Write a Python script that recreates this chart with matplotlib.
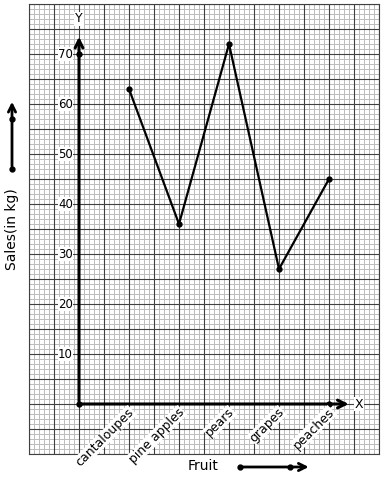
import numpy as np
import matplotlib
matplotlib.use("Agg")
import matplotlib.pyplot as plt

fruits = ["cantaloupes", "pine apples", "pears", "grapes", "peaches"]
sales = [63, 36, 72, 27, 45]
y_labels = [10, 20, 30, 40, 50, 60, 70]

x_pos = np.arange(1, len(fruits) + 1)

fig = plt.figure(figsize=(3.84, 4.8), dpi=100)
ax = fig.add_axes([29 / 384, 26 / 480, 350 / 384, 450 / 480])
ax.set_xlim(-1, 6)
ax.set_ylim(-10, 80)

# graph paper
for v in np.arange(-1, 6.001, 0.1):
    ax.axvline(v, color="#bdbdbd", lw=0.72, zorder=0)
for v in np.arange(-10, 80.001, 1):
    ax.axhline(v, color="#bdbdbd", lw=0.72, zorder=0)
for v in np.arange(-1, 6.001, 0.5):
    ax.axvline(v, color="#404040", lw=0.8, zorder=1)
for v in np.arange(-10, 80.001, 5):
    ax.axhline(v, color="#404040", lw=0.8, zorder=1)

ax.set_xticks([])
ax.set_yticks([])
for s in ax.spines.values():
    s.set_color("#404040")
    s.set_linewidth(0.8)

# axes with arrows
ax.annotate("", xy=(0, 74), xytext=(0, 0),
            arrowprops=dict(arrowstyle="->", lw=2.2, color="black", mutation_scale=14), zorder=3)
ax.annotate("", xy=(5.45, 0), xytext=(0, 0),
            arrowprops=dict(arrowstyle="->", lw=2.2, color="black", mutation_scale=14), zorder=3)
ax.plot([0, 0, 5], [0, 70, 0], "o", color="black", ms=3.5, zorder=4)
ax.text(0, 77, "Y", ha="center", va="center", fontsize=9,
        bbox=dict(fc="white", ec="none", pad=0.5), zorder=5)
ax.text(5.6, 0, "X", ha="center", va="center", fontsize=9,
        bbox=dict(fc="white", ec="none", pad=0.5), zorder=5)

# y labels
for v in y_labels:
    ax.text(-0.12, v, str(v), ha="right", va="center", fontsize=8.5,
            bbox=dict(fc="white", ec="none", pad=0.3), zorder=5)

# x labels
for x, name in zip(x_pos, fruits):
    ax.text(x - 0.03, -0.3, name, ha="right", va="top", rotation=45,
            rotation_mode="anchor", fontsize=9,
            bbox=dict(fc="white", ec="none", pad=0.3), zorder=5, clip_on=False)

# data
ax.plot(x_pos, sales, color="black", lw=1.6, marker="o", ms=3.5, zorder=4)

# outside labels and arrows
ax.text(-1.34, 35, "Sales(in kg)", rotation=90, ha="center", va="center",
        fontsize=10, clip_on=False)
ax.annotate("", xy=(-1.34, 61), xytext=(-1.34, 47), annotation_clip=False,
            arrowprops=dict(arrowstyle="->", lw=2, color="black", mutation_scale=13))
ax.plot([-1.34, -1.34], [47, 57], "o", color="black", ms=3.5, clip_on=False)

ax.text(2.48, -12.5, "Fruit", ha="center", va="center", fontsize=10, clip_on=False)
ax.annotate("", xy=(4.65, -12.6), xytext=(3.22, -12.6), annotation_clip=False,
            arrowprops=dict(arrowstyle="->", lw=2, color="black", mutation_scale=13))
ax.plot([3.22, 4.22], [-12.6, -12.6], "o", color="black", ms=3.5, clip_on=False)

fig.savefig("out.png", dpi=100)
